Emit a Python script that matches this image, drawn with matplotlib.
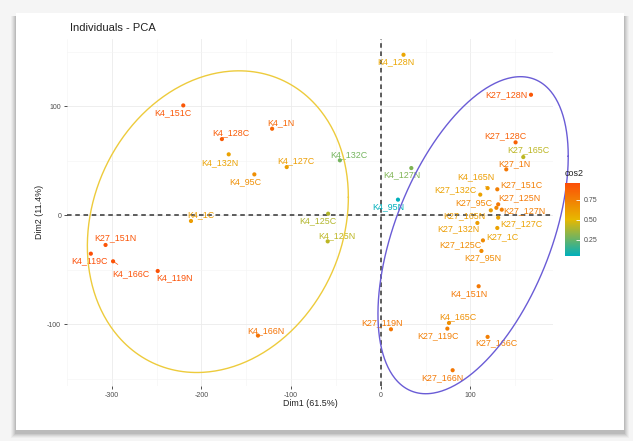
import numpy as np
import matplotlib
matplotlib.use("Agg")
import matplotlib.pyplot as plt
from matplotlib.colors import LinearSegmentedColormap, Normalize
from matplotlib.patches import Rectangle

plt.rcParams['font.family'] = ['Liberation Sans', 'DejaVu Sans']
plt.rcParams['axes.unicode_minus'] = False

# ---------------- data ----------------
names = ["K4_128N", "K27_128N", "K4_151C", "K4_1N", "K4_128C", "K4_132N", "K4_127C",
         "K4_95C", "K4_132C", "K4_127N", "K4_95N", "K4_1C", "K4_125C", "K4_125N",
         "K27_151N", "K4_119C", "K4_166C", "K4_119N", "K4_166N", "K27_128C", "K27_165C",
         "K27_1N", "K4_165N", "K27_151C", "K27_132C", "K27_125N", "K27_95C", "K27_127N",
         "K27_165N", "K27_132N", "K27_127C", "K27_1C", "K27_125C", "K27_95N", "K4_151N",
         "K4_165C", "K27_119C", "K27_119N", "K27_166C", "K27_166N"]
dim1 = [25.4, 167.6, -220.3, -121.2, -177.2, -169.6, -104.9,
        -141.0, -45.6, 34.1, 19.2, -211.7, -58.7, -59.2,
        -307.0, -323.4, -298.6, -248.8, -137.0, 150.4, 159.0,
        140.0, 119.2, 130.0, 111.0, 131.0, 129.0, 135.0,
        122.8, 107.8, 131.0, 130.0, 114.0, 112.3, 109.2,
        76.1, 74.3, 11.4, 119.2, 80.2]
dim2 = [147.4, 110.7, 100.9, 79.5, 70.0, 56.0, 44.3,
        37.6, 50.5, 43.4, 14.4, -5.2, 1.5, -23.9,
        -27.2, -35.2, -42.2, -51.1, -110.4, 67.0, 53.5,
        42.2, 25.0, 23.9, 19.0, 10.1, 6.9, 5.2,
        4.6, -7.0, -2.1, -11.6, -23.0, -32.7, -65.1,
        -98.8, -104.0, -104.6, -111.6, -142.2]
cos2 = [0.58, 0.92, 0.92, 0.85, 0.90, 0.60, 0.62,
        0.68, 0.28, 0.30, 0.05, 0.62, 0.40, 0.42,
        0.93, 0.96, 0.94, 0.94, 0.80, 0.88, 0.42,
        0.78, 0.62, 0.75, 0.60, 0.78, 0.72, 0.75,
        0.62, 0.62, 0.60, 0.60, 0.70, 0.70, 0.78,
        0.68, 0.75, 0.78, 0.75, 0.78]

# hand-drawn group ellipses: outline readings (Dim1, Dim2) -> fitted ellipse
yellow_ell_dim1 = [-177.9, -222.4, -259.4, -289.1, -311.3, -322.4, -324.3, -320.5,
                   -307.6, -277.9, -244.6, -211.3, -177.9, -140.9, -103.8, -74.2,
                   -52.0, -39.0, -36.5, -40.9, -55.7, -81.6, -118.7, -148.3]
yellow_ell_dim2 = [128.5, 119.9, 101.5, 74.0, 37.3, 0.6, -30.0, -63.7,
                   -97.3, -124.9, -138.6, -143.9, -141.7, -131.0, -109.6, -82.1,
                   -45.4, -8.6, 25.1, 58.8, 89.3, 110.7, 124.5, 128.5]
blue_ell_dim1 = [172.5, 139.1, 102.1, 65.1, 35.5, 16.9, 4.0, -0.9, 0.2, 9.6, 28.0,
                 50.2, 76.2, 109.6, 146.6, 176.3, 196.6, 205.8, 205.8, 198.5, 187.4]
blue_ell_dim2 = [128.5, 119.9, 101.5, 74.0, 40.4, 6.7, -36.2, -79.0, -115.7, -143.2,
                 -158.5, -164.1, -158.5, -140.2, -103.5, -60.6, -14.7, 34.2, 74.0,
                 104.7, 123.0]
ell_colors = ["#EDCB3C", "#6A5CD6"]

grad_cols = ["#00AFBB", "#E7B800", "#FC4E07"]

# label placement (pixels, right / down) -- layout only
lab_dx = [-8, -25, -10, 9, 9, -9, 9, -9, 9, -9, -10, 10, -10, 9,
          10, -1, 18, 17, 8, -10, 5, 8, -12, 24, -25, 21, -23, 23,
          -26, -19, 23, 5, -23, 1, -10, 9, -9, -9, 9, -10]
lab_dy = [7, 0, 7, -6, -6, 8, -6, 7, -6, 7, 7, -6, 7, -6,
          -7, 7, 12, 7, -5, -7, -7, -6, -11, -5, -5, -7, -5, 1,
          5, 6, 6, 9, 4, 7, 7, -6, 7, -7, 6, 7]
seg_labels = ["K4_166C", "K4_165N"]


def fit_ellipse(xs, ys, n=400):
    xs = np.asarray(xs) / 100.0
    ys = np.asarray(ys) / 100.0
    Amat = np.column_stack([xs ** 2, xs * ys, ys ** 2, xs, ys])
    a, b, c, d, e = np.linalg.lstsq(Amat, np.ones_like(xs), rcond=None)[0]
    f = -1.0
    x0, y0 = np.linalg.solve([[2 * a, b], [b, 2 * c]], [-d, -e])
    fp = a * x0 ** 2 + b * x0 * y0 + c * y0 ** 2 + d * x0 + e * y0 + f
    Q = np.array([[a, b / 2], [b / 2, c]]) / (-fp)
    M = np.linalg.inv(Q)
    Lc = np.linalg.cholesky(M)
    t = np.linspace(0, 2 * np.pi, n)
    pts = Lc @ np.vstack([np.cos(t), np.sin(t)])
    return (x0 + pts[0]) * 100, (y0 + pts[1]) * 100


# ---------------- figure ----------------
W, H = 633, 441
fig = plt.figure(figsize=(W / 100, H / 100), dpi=100)
fig.patch.set_facecolor("#f5f5f5")

# card with soft shadow
for i, a in enumerate([0.03, 0.04, 0.05, 0.06, 0.07]):
    off = 5 - i
    fig.add_artist(Rectangle(((16 - off) / W, 1 - (430 + off + 3) / H),
                             (608 + 2 * off) / W, (417 + off) / H,
                             transform=fig.transFigure, facecolor="black",
                             alpha=a, edgecolor="none", zorder=-2))
fig.add_artist(Rectangle((16 / W, 1 - 430 / H), 608 / W, 417 / H,
                         transform=fig.transFigure, facecolor="white",
                         edgecolor="none", zorder=-1))

L, R, T, B = 67, 553, 39, 386
ax = fig.add_axes([L / W, 1 - B / H, (R - L) / W, (B - T) / H])
ax.set_zorder(2)
ax.patch.set_alpha(0)

x = np.array(dim1)
y = np.array(dim2)
xr = x.max() - x.min()
yr = y.max() - y.min()
ax.set_xlim(x.min() - 0.05 * xr, x.max() + 0.05 * xr)
ax.set_ylim(y.min() - 0.05 * yr, y.max() + 0.05 * yr)

ax.set_xticks([-300, -200, -100, 0, 100])
ax.set_yticks([-100, 0, 100])
ax.set_xticks([-350, -250, -150, -50, 50, 150], minor=True)
ax.set_yticks([-150, -50, 50, 150], minor=True)
ax.grid(True, which="major", color="#EBEBEB", lw=0.6)
ax.grid(True, which="minor", color="#F4F4F4", lw=0.4)
ax.set_axisbelow(True)
for s in ax.spines.values():
    s.set_visible(False)
ax.tick_params(which="major", length=2.2, width=0.6, color="#333333",
               labelsize=5, labelcolor="#4D4D4D", pad=2)
ax.tick_params(which="minor", length=0)

ax.axhline(0, color="#333333", lw=1.1, dashes=(3, 2.4), zorder=1)
ax.axvline(0, color="#333333", lw=1.1, dashes=(3, 2.4), zorder=1)

cmap = LinearSegmentedColormap.from_list("cos2", grad_cols)
norm = Normalize(vmin=min(cos2), vmax=max(cos2))

ax.scatter(x, y, c=cos2, cmap=cmap, norm=norm, s=9, linewidths=0, zorder=3)

px2pt = 72 / 100
for n, xi, yi, c, dx, dy in zip(names, dim1, dim2, cos2, lab_dx, lab_dy):
    col = cmap(norm(c))
    kw = {}
    if n in seg_labels:
        kw["arrowprops"] = dict(arrowstyle="-", color=col, lw=0.5,
                                shrinkA=2, shrinkB=0)
    ax.annotate(n, (xi, yi), xytext=(dx * px2pt, -dy * px2pt),
                textcoords="offset points", ha="center", va="center",
                fontsize=6.4, color=col, zorder=4, **kw)

for ex_r, ey_r, ec in zip([yellow_ell_dim1, blue_ell_dim1],
                          [yellow_ell_dim2, blue_ell_dim2], ell_colors):
    ex, ey = fit_ellipse(ex_r, ey_r)
    ax.plot(ex, ey, color=ec, lw=1.0, clip_on=False, zorder=5)

# titles
fig.text(70 / W, 1 - 28 / H, "Individuals - PCA", fontsize=8, color="#222222",
         va="center", ha="left")
fig.text((L + R) / 2 / W, 1 - 404 / H, "Dim1 (61.5%)", fontsize=6.4,
         color="#222222", ha="center", va="center")
fig.text(40 / W, 1 - 212 / H, "Dim2 (11.4%)", fontsize=6.4, color="#222222",
         ha="center", va="center", rotation=90)

# colour bar legend
cax = fig.add_axes([565 / W, 1 - 256 / H, 15 / W, 73 / H])
cax.set_zorder(2)
sm = matplotlib.cm.ScalarMappable(norm=norm, cmap=cmap)
cb = fig.colorbar(sm, cax=cax)
cb.outline.set_visible(False)
cb.set_ticks([0.25, 0.5, 0.75])
cb.set_ticklabels(["0.25", "0.50", "0.75"])
cax.tick_params(direction="in", length=3, width=0.6, color="white",
                labelsize=5, labelcolor="#4D4D4D", pad=3)
fig.text(565 / W, 1 - 174 / H, "cos2", fontsize=6.4, color="#222222",
         ha="left", va="center")

fig.savefig("out.png", dpi=100, facecolor=fig.get_facecolor())
